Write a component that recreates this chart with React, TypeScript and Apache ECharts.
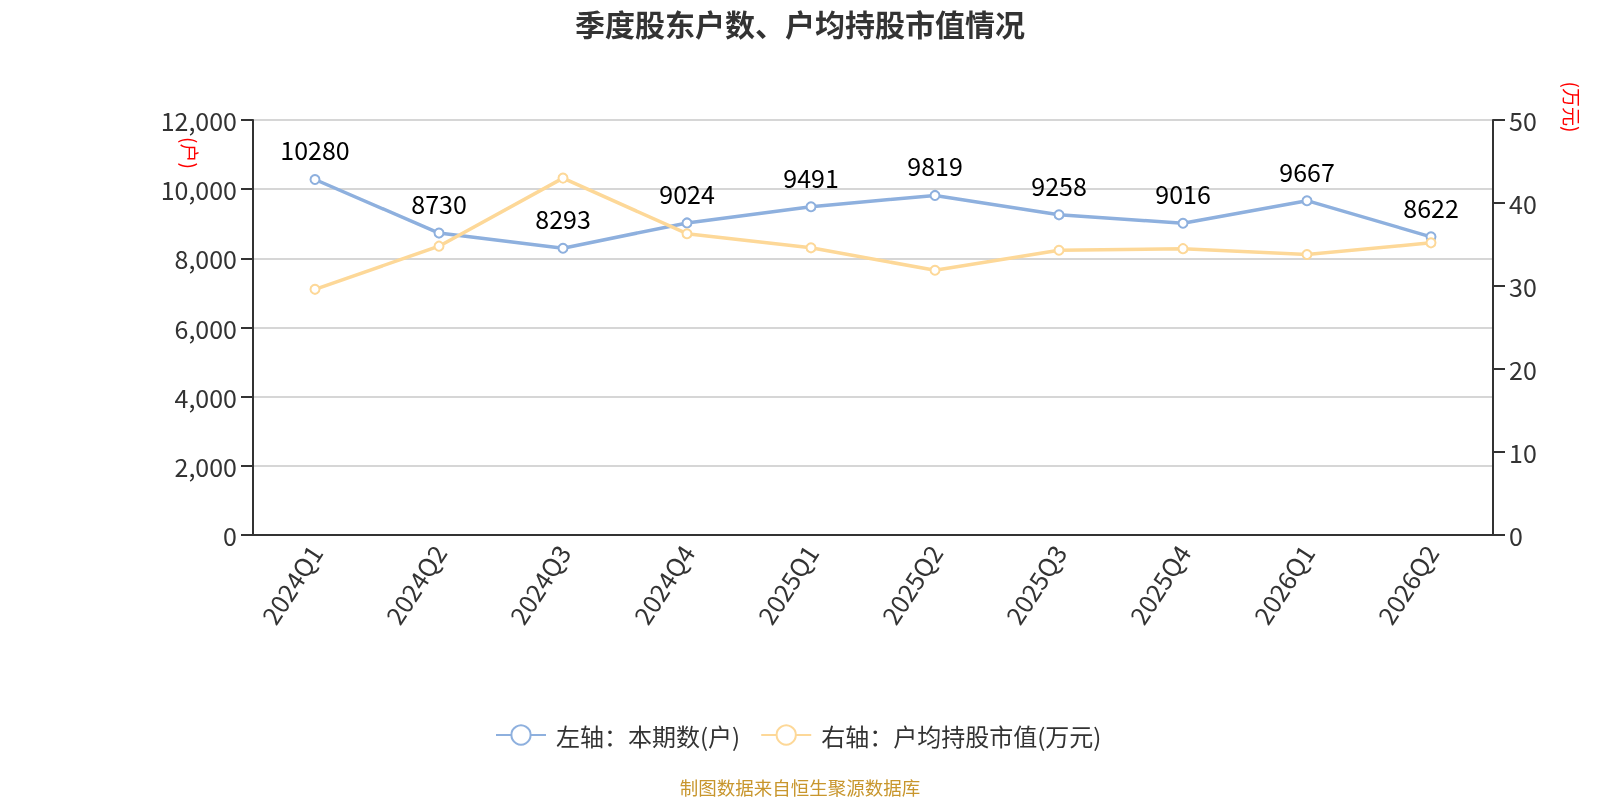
import React, { useEffect, useRef } from "react";
import * as echarts from "echarts";

const categories = ["2024Q1", "2024Q2", "2024Q3", "2024Q4", "2025Q1", "2025Q2", "2025Q3", "2025Q4", "2026Q1", "2026Q2"];
const holders = [10280, 8730, 8293, 9024, 9491, 9819, 9258, 9016, 9667, 8622];
const avgValue = [29.6, 34.8, 43.0, 36.3, 34.6, 31.9, 34.3, 34.5, 33.8, 35.2];
const leftTicks = { min: 0, max: 12000, interval: 2000 };
const rightTicks = { min: 0, max: 50, interval: 10 };

export default function App() {
  const ref = useRef<HTMLDivElement>(null);
  useEffect(() => {
    const chart = echarts.init(ref.current!, null, { renderer: "svg" });
    const font = "'Noto Sans CJK SC', 'Noto Sans', sans-serif";
    chart.setOption({
      animation: false,
      textStyle: { fontFamily: font },
      title: {
        text: "季度股东户数、户均持股市值情况",
        left: "center",
        top: 3,
        textStyle: { fontSize: 30, fontWeight: "bold", color: "#333", fontFamily: font },
      },
      grid: { left: 253, right: 107, top: 120, bottom: 265, containLabel: false, outerBoundsMode: "none" },
      legend: {
        top: 718,
        left: 490,
        itemWidth: 50,
        itemHeight: 24,
        itemGap: 20,
        textStyle: { fontSize: 24, color: "#333", padding: [0, 0, 0, 5] },
        data: ["左轴：本期数(户)", "右轴：户均持股市值(万元)"],
      },
      xAxis: {
        type: "category",
        data: categories,
        boundaryGap: true,
        axisLine: { lineStyle: { color: "#333", width: 2 } },
        axisTick: { lineStyle: { color: "#333", width: 2 }, length: 10 },
        axisLabel: { rotate: 57, fontSize: 25, color: "#333", margin: 12 },
      },
      yAxis: [
        {
          type: "value",
          ...leftTicks,
          axisLine: { show: true, lineStyle: { color: "#333", width: 2 } },
          axisTick: { show: true, lineStyle: { color: "#333", width: 2 }, length: 12 },
          axisLabel: { fontSize: 25, color: "#333", margin: 16 },
          splitLine: { lineStyle: { color: "#c8c8c8", width: 1.5 } },
        },
        {
          type: "value",
          ...rightTicks,
          axisLine: { show: true, lineStyle: { color: "#333", width: 2 } },
          axisTick: { show: true, lineStyle: { color: "#333", width: 2 }, length: 12 },
          axisLabel: { fontSize: 25, color: "#333", margin: 16 },
          splitLine: { show: false },
        },
      ],
      graphic: [
        {
          type: "text",
          x: 190,
          y: 153,
          rotation: -Math.PI / 2,
          style: { text: "(户)", fontSize: 19, fill: "red", align: "center", verticalAlign: "middle", fontFamily: font },
        },
        {
          type: "text",
          x: 1572,
          y: 107,
          rotation: -Math.PI / 2,
          style: { text: "(万元)", fontSize: 19, fill: "red", align: "center", verticalAlign: "middle", fontFamily: font },
        },
        {
          type: "text",
          left: "center",
          top: 778,
          style: { text: "制图数据来自恒生聚源数据库", fontSize: 18.5, fill: "#c8962d", fontFamily: font },
        },
      ],
      series: [
        {
          name: "左轴：本期数(户)",
          type: "line",
          data: holders,
          yAxisIndex: 0,
          symbol: "emptyCircle",
          symbolSize: 9,
          itemStyle: { color: "#8eb0de", borderWidth: 2 },
          lineStyle: { width: 3.5, color: "#8eb0de" },
          label: { show: true, position: "top", fontSize: 25, color: "#000", distance: 12 },
        },
        {
          name: "右轴：户均持股市值(万元)",
          type: "line",
          data: avgValue,
          yAxisIndex: 1,
          symbol: "emptyCircle",
          symbolSize: 9,
          itemStyle: { color: "#fdd898", borderWidth: 2 },
          lineStyle: { width: 3.5, color: "#fdd898" },
        },
      ],
    });
    return () => chart.dispose();
  }, []);
  return <div ref={ref} style={{ position: "fixed", left: 0, top: 0, width: 1600, height: 800 }} />;
}
